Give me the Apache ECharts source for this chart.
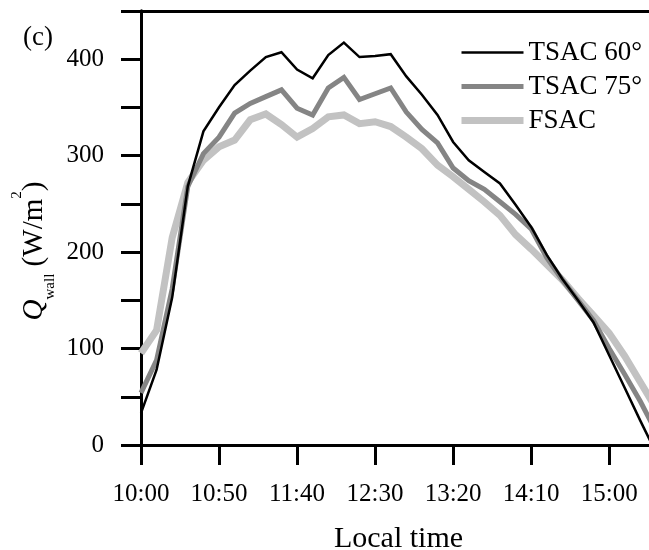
<!DOCTYPE html>
<html>
<head>
<meta charset="utf-8">
<script src="https://cdn.jsdelivr.net/npm/echarts@6/dist/echarts.min.js"></script>
<style>
html,body{margin:0;padding:0;background:#fff;}
#chart{width:649px;height:550px;}
</style>
</head>
<body>
<div id="chart"></div>
<script>
// Sample times (every 10 minutes)
const times = ['10:00','10:10','10:20','10:30','10:40','10:50','11:00','11:10','11:20','11:30',
  '11:40','11:50','12:00','12:10','12:20','12:30','12:40','12:50','13:00','13:10',
  '13:20','13:30','13:40','13:50','14:00','14:10','14:20','14:30','14:40','14:50',
  '15:00','15:10','15:20','15:30'];
// Q_wall values (W/m2)
const tsac60 = [33,78,153,268,325,350,373,388,402,407,389,380,404,417,402,403,405,382,363,342,
  314,295,283,271,249,226,197,172,150,127,93,59,25,-8];
const tsac75 = [54,88,162,268,302,319,344,354,361,368,349,342,370,381,358,364,370,345,327,313,
  287,274,265,252,239,224,194,171,150,129,100,73,45,14];
const fsac = [95,119,215,272,295,309,316,337,343,332,319,328,340,342,333,335,330,319,307,290,
  278,265,252,238,218,203,187,171,152,134,116,92,65,38];
const seriesNames = ['TSAC 60°','TSAC 75°','FSAC'];
const xTickLabels = ['10:00','10:50','11:40','12:30','13:20','14:10','15:00'];
const yTickLabels = ['0','100','200','300','400'];

const FONT = "'Liberation Serif','DejaVu Serif',serif";
const colors = ['#000000','#858585','#c2c2c2'];
const widths = [2.5,5,7];
function toMin(t){const p=t.split(':');return (+p[0])*60+(+p[1])-600;}
const pts = arr => arr.map((v,i)=>[toMin(times[i]), v]);
const allData = [tsac60, tsac75, fsac];

const chart = echarts.init(document.getElementById('chart'), null, {renderer:'canvas'});
chart.setOption({
  animation:false,
  backgroundColor:'#fff',
  grid:{left:141, top:10.75, width:515, height:434.25, containLabel:false, outerBoundsMode:'none'},
  legend:{
    orient:'vertical', left:458, top:39, padding:0, itemWidth:62, itemHeight:27, itemGap:7,
    textStyle:{fontFamily:FONT, fontSize:27, color:'#000', lineHeight:27},
    itemStyle:{opacity:0},
    data:seriesNames.map((n,i)=>({name:n, lineStyle:{color:colors[i], width:widths[i]}}))
  },
  xAxis:[{
    type:'value', min:0, max:330, interval:50,
    name:'Local time', nameLocation:'middle', nameGap:79,
    nameTextStyle:{fontFamily:FONT, fontSize:30, color:'#000'},
    axisLine:{show:true, onZero:false, lineStyle:{color:'#000', width:3}},
    axisTick:{show:true, inside:false, length:20, lineStyle:{color:'#000', width:3}},
    axisLabel:{margin:37, fontFamily:FONT, fontSize:25, color:'#000', hideOverlap:false,
      formatter:v => (v%50===0 && xTickLabels[v/50]!==undefined) ? xTickLabels[v/50] : ''},
    splitLine:{show:false}
  },{
    type:'value', min:0, max:330, position:'top',
    axisLine:{show:true, onZero:false, lineStyle:{color:'#000', width:3}},
    axisTick:{show:false}, axisLabel:{show:false}, splitLine:{show:false}
  }],
  yAxis:{
    type:'value', min:0, max:450, interval:50,
    axisLine:{show:true, onZero:false, lineStyle:{color:'#000', width:3}},
    axisTick:{show:true, inside:false, length:20, lineStyle:{color:'#000', width:3}},
    axisLabel:{margin:37, fontFamily:FONT, fontSize:25, color:'#000',
      formatter:v => (v%100===0 && yTickLabels[v/100]!==undefined) ? yTickLabels[v/100] : ''},
    splitLine:{show:false}
  },
  graphic:[
    {type:'text', x:23, y:38, style:{text:'(c)', fontFamily:FONT, fontSize:27, fill:'#000', verticalAlign:'middle', align:'left'}},
    {type:'text', x:34, y:251, rotation:Math.PI/2,
      style:{
        text:'{q|Q}{s|wall}{m| (W/m}{p|2}{m|)}',
        align:'center', verticalAlign:'middle', fill:'#000',
        fontFamily:FONT, fontSize:29,
        rich:{
          q:{fontFamily:FONT, fontSize:29, fontStyle:'italic', lineHeight:48, verticalAlign:'middle', fill:'#000'},
          m:{fontFamily:FONT, fontSize:29, lineHeight:48, verticalAlign:'middle', fill:'#000'},
          s:{fontFamily:FONT, fontSize:15, verticalAlign:'bottom', fill:'#000'},
          p:{fontFamily:FONT, fontSize:15, verticalAlign:'top', fill:'#000'}
        }
      }}
  ],
  series:seriesNames.map((n,i)=>({
    name:n, type:'line', data:pts(allData[i]), showSymbol:false, symbol:'none', z:4-i,
    lineStyle:{color:colors[i], width:widths[i], join:'miter'},
    itemStyle:{color:colors[i], opacity:0}
  }))
});
</script>
</body>
</html>
